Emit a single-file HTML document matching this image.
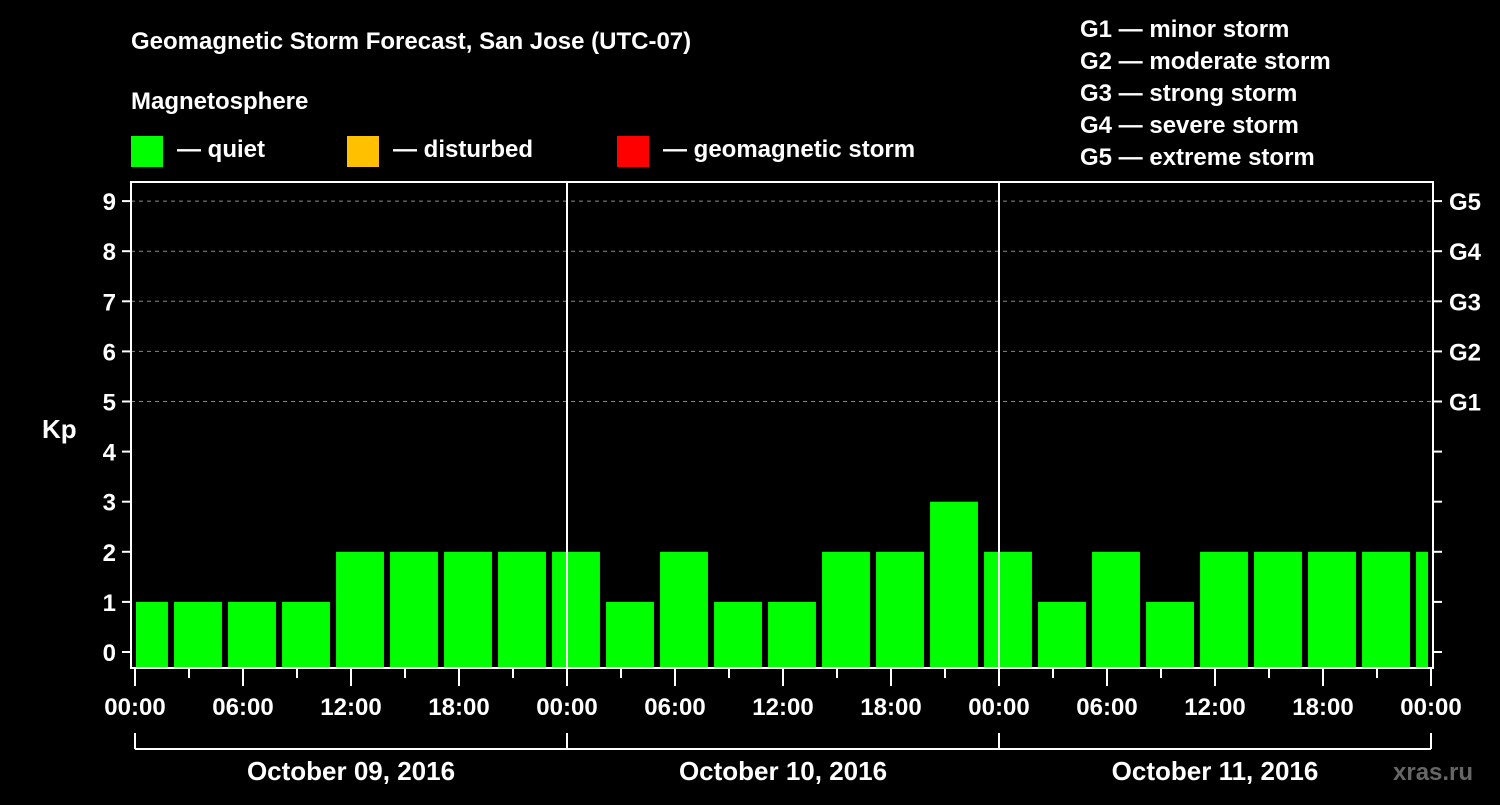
<!DOCTYPE html>
<html><head><meta charset="utf-8"><style>
body{margin:0;background:#000;width:1500px;height:800px;overflow:hidden}
svg text{font-family:"Liberation Sans",Arial,sans-serif;font-weight:bold;fill:#fff}
</style></head><body>
<svg id="c" width="1500" height="800">
<text x="131" y="49" font-size="24">Geomagnetic Storm Forecast, San Jose (UTC-07)</text>
<text x="131" y="109" font-size="24">Magnetosphere</text>
<rect x="131" y="136" width="32" height="31" fill="#00ff00"/>
<text x="177" y="157" font-size="24">— quiet</text>
<rect x="347" y="136" width="32" height="31" fill="#ffc000"/>
<text x="393" y="157" font-size="24">— disturbed</text>
<rect x="617" y="136" width="32" height="31" fill="#ff0000"/>
<text x="663" y="157" font-size="24">— geomagnetic storm</text>
<g font-size="24">
<text x="1080" y="37">G1 — minor storm</text>
<text x="1080" y="69">G2 — moderate storm</text>
<text x="1080" y="101">G3 — strong storm</text>
<text x="1080" y="133">G4 — severe storm</text>
<text x="1080" y="165">G5 — extreme storm</text>
</g>
<text x="42" y="438" font-size="26">Kp</text>
<text x="1393" y="780" font-size="24" fill="#555" style="fill:#666">xras.ru</text>
<g id="plot"></g>
</svg>
<script>
const kpValues=[1,1,1,1,2,2,2,2, 2,1,2,1,1,2,2,3, 2,1,2,1,2,2,2,2, 2];
const hourLabels=["00:00","06:00","12:00","18:00"];
const dateLabels=["October 09, 2016","October 10, 2016","October 11, 2016"];
const gLabels=["G1","G2","G3","G4","G5"];
const NS="http://www.w3.org/2000/svg";
const g=document.getElementById('plot');
const L=131,R=1433,T=182,B=668,X0=135,HPX=18;
const xs=h=>X0+h*HPX, ys=k=>652-k*50.1;
function mk(t,a){const e=document.createElementNS(NS,t);for(const k in a)e.setAttribute(k,a[k]);g.appendChild(e);return e;}
// grid
for(let k=5;k<=9;k++){const e=mk('line',{x1:L,x2:R,y1:ys(k),y2:ys(k),stroke:'#888','stroke-dasharray':'4,4','stroke-width':1});

}
// bars
kpValues.forEach((v,i)=>{const c=0.5+3*i;let x1=xs(c-1.33),x2=xs(c+1.33);x1=Math.max(x1,L+5);x2=Math.min(x2,R-5);
const col=v>=5?'#ff0000':(v>=4?'#ffc000':'#00ff00');
const e=mk('rect',{x:x1,y:ys(v),width:x2-x1,height:B-ys(v),fill:col});

});
// day separators
for(let d=1;d<3;d++){const e=mk('line',{x1:xs(24*d),x2:xs(24*d),y1:T,y2:B,stroke:'#fff','stroke-width':2});

}
// frame
const fr=mk('rect',{x:L,y:T,width:R-L,height:B-T,fill:'none',stroke:'#fff','stroke-width':2});


// y ticks
for(let k=0;k<=9;k++){mk('line',{x1:122,x2:L,y1:ys(k),y2:ys(k),stroke:'#fff','stroke-width':2});
mk('line',{x1:R,x2:1442,y1:ys(k),y2:ys(k),stroke:'#fff','stroke-width':2});
const t=mk('text',{x:116,y:ys(k)+9,'font-size':24,'text-anchor':'end'});t.textContent=k;

}
gLabels.forEach((s,i)=>{const t=mk('text',{x:1449,y:ys(5+i)+9,'font-size':24});t.textContent=s;

});
// x ticks
for(let h=0;h<=72;h+=3){const maj=h%6===0;mk('line',{x1:xs(h),x2:xs(h),y1:B,y2:maj?686:678,stroke:'#fff','stroke-width':2});}
for(let h=0;h<=72;h+=6){const t=mk('text',{x:xs(h),y:715,'font-size':24,'text-anchor':'middle'});t.textContent=hourLabels[(h/6)%4];

}
// date brackets
mk('line',{x1:xs(0),x2:xs(72),y1:749,y2:749,stroke:'#fff','stroke-width':2});
for(let d=0;d<=3;d++)mk('line',{x1:xs(24*d),x2:xs(24*d),y1:733,y2:749,stroke:'#fff','stroke-width':2});
dateLabels.forEach((s,d)=>{const t=mk('text',{x:xs(24*d+12),y:780,'font-size':26,'text-anchor':'middle'});t.textContent=s;

});
</script>
</body></html>
